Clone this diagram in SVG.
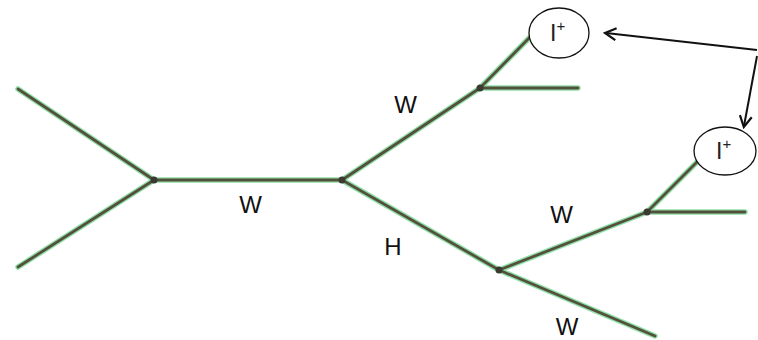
<svg xmlns="http://www.w3.org/2000/svg" width="758" height="340" viewBox="0 0 758 340">
<defs>
<style>
.halo{fill:none;stroke:#8fe0a8;stroke-width:5.5;stroke-linecap:round;stroke-linejoin:round}
.core{fill:none;stroke:#55503c;stroke-width:2.8;stroke-linecap:round;stroke-linejoin:round}
.lbl{font-family:"Liberation Sans",Arial,sans-serif;font-size:24px;fill:#111;text-anchor:middle}
.circ{fill:#fff;stroke:#111;stroke-width:1.3}
.ctext{font-family:"Liberation Sans",Arial,sans-serif;font-size:23px;fill:#222}
.arr{fill:none;stroke:#111;stroke-width:2}
</style>
<marker id="ah" markerWidth="14" markerHeight="14" refX="11" refY="7" orient="auto" markerUnits="userSpaceOnUse">
<path d="M1,1 L12,7 L1,13" fill="none" stroke="#111" stroke-width="2.2"/>
</marker>
<g id="lines">
<path d="M18,89 L154,180 L18,267 M154,180 L342,180 L480,88 L578,88 M480,88 L533,34 M342,180 L499,270 L655,336 M499,270 L647,212 L745,212 M647,212 L699,160"/>
</g>
</defs>
<g id="connectors">
<use href="#lines" class="halo"/>
<use href="#lines" class="core"/>
<circle cx="154" cy="180" r="3.5" fill="#3a3a30"/>
<circle cx="342" cy="180" r="3.5" fill="#3a3a30"/>
<circle cx="480" cy="88" r="3.5" fill="#3a3a30"/>
<circle cx="499" cy="270" r="3.5" fill="#3a3a30"/>
<circle cx="647" cy="212" r="3.5" fill="#3a3a30"/>
<path class="arr" d="M757,50 L606,33" marker-end="url(#ah)"/>
<path class="arr" d="M757,56 L744,126" marker-end="url(#ah)"/>
</g>
<g id="lepton1">
<ellipse class="circ" cx="559" cy="33" rx="30" ry="25"/>
<text class="ctext" x="550" y="41">I<tspan font-size="15" dy="-10">+</tspan></text>
</g>
<g id="lepton2">
<ellipse class="circ" cx="725" cy="151" rx="31" ry="24"/>
<text class="ctext" x="716" y="159">I<tspan font-size="15" dy="-10">+</tspan></text>
</g>
<g id="labels">
<text class="lbl" x="405.5" y="113">W</text>
<text class="lbl" x="250.5" y="213">W</text>
<text class="lbl" x="393" y="255">H</text>
<text class="lbl" x="561.5" y="223">W</text>
<text class="lbl" x="567" y="335">W</text>
</g>
</svg>
